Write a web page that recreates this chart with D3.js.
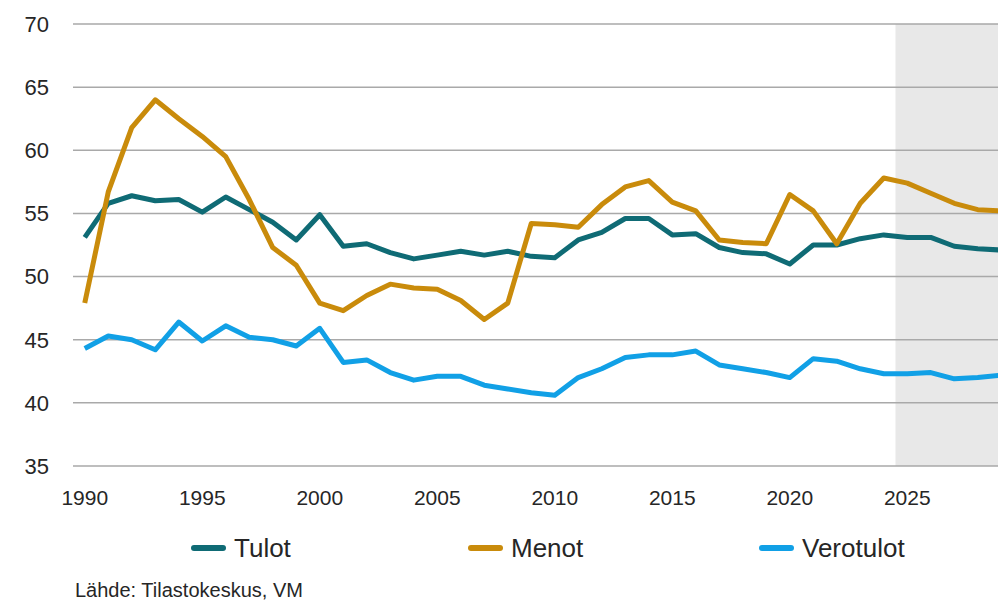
<!DOCTYPE html>
<meta charset="utf-8">
<head>
  <script src="https://d3js.org/d3.v7.min.js"></script>
  <style>
    body { margin: 0; background: #fff; }
    text { font-family: "Liberation Sans", Arial, sans-serif; fill: #262626; }
  </style>
</head>
<body>
<svg id="chart"></svg>
<script>
  // years 1990..2029 (last one partly outside the picture)
  var years = d3.range(1990, 2030);
  var tulot = [53.1, 55.8, 56.4, 56.0, 56.1, 55.1, 56.3, 55.3, 54.3, 52.9,
               54.9, 52.4, 52.6, 51.9, 51.4, 51.7, 52.0, 51.7, 52.0, 51.6,
               51.5, 52.9, 53.5, 54.6, 54.6, 53.3, 53.4, 52.3, 51.9, 51.8,
               51.0, 52.5, 52.5, 53.0, 53.3, 53.1, 53.1, 52.4, 52.2, 52.1];
  var menot = [47.9, 56.7, 61.8, 64.0, 62.5, 61.1, 59.5, 56.1, 52.3, 50.9,
               47.9, 47.3, 48.5, 49.4, 49.1, 49.0, 48.1, 46.6, 47.9, 54.2,
               54.1, 53.9, 55.7, 57.1, 57.6, 55.9, 55.2, 52.9, 52.7, 52.6,
               56.5, 55.2, 52.6, 55.8, 57.8, 57.4, 56.6, 55.8, 55.3, 55.2];
  var verotulot = [44.3, 45.3, 45.0, 44.2, 46.4, 44.9, 46.1, 45.2, 45.0, 44.5,
                   45.9, 43.2, 43.4, 42.4, 41.8, 42.1, 42.1, 41.4, 41.1, 40.8,
                   40.6, 42.0, 42.7, 43.6, 43.8, 43.8, 44.1, 43.0, 42.7, 42.4,
                   42.0, 43.5, 43.3, 42.7, 42.3, 42.3, 42.4, 41.9, 42.0, 42.2];
  var seriesNames = ["Tulot", "Menot", "Verotulot"];
  var seriesColors = ["#0f6b75", "#c98b0b", "#11a0e6"];
  var yTicks = [35, 40, 45, 50, 55, 60, 65, 70];
  var xTicks = [1990, 1995, 2000, 2005, 2010, 2015, 2020, 2025];
  var forecastFrom = 2025;
  var source = "Lähde: Tilastokeskus, VM";

  var W = 998, H = 601;
  var svg = d3.select("#chart").attr("width", W).attr("height", H);

  // category axis, points in the middle of each band
  var x = d3.scaleBand().domain(years).range([73, 73 + 23.5 * years.length]);
  var xc = function(yr) { return x(yr) + x.bandwidth() / 2; };
  var y = d3.scaleLinear().domain([35, 70]).range([466, 24]);

  // forecast shading
  svg.append("rect")
    .attr("x", x(forecastFrom)).attr("y", y(70))
    .attr("width", W - x(forecastFrom)).attr("height", y(35) - y(70))
    .attr("fill", "#e8e8e8");

  // gridlines
  svg.append("g").selectAll("line").data(yTicks).enter().append("line")
    .attr("x1", 73).attr("x2", W)
    .attr("y1", function(d) { return y(d); }).attr("y2", function(d) { return y(d); })
    .attr("stroke", "#a9a9a9").attr("stroke-width", 1.5);

  // y labels
  svg.append("g").selectAll("text").data(yTicks).enter().append("text")
    .attr("x", 49).attr("y", function(d) { return y(d); })
    .attr("dy", "0.36em").attr("text-anchor", "end")
    .attr("font-size", 22).text(function(d) { return d; });

  // x labels
  svg.append("g").selectAll("text").data(xTicks).enter().append("text")
    .attr("x", function(d) { return xc(d); }).attr("y", 497)
    .attr("dy", "0.36em").attr("text-anchor", "middle")
    .attr("font-size", 21).text(function(d) { return d; });

  // lines
  var data = [tulot, menot, verotulot];
  var line = d3.line()
    .x(function(d, i) { return xc(years[i]); })
    .y(function(d) { return y(d); });
  svg.append("g").selectAll("path").data(data).enter().append("path")
    .attr("d", line)
    .attr("fill", "none")
    .attr("stroke", function(d, i) { return seriesColors[i]; })
    .attr("stroke-width", 5)
    .attr("stroke-linejoin", "round");

  // legend
  var legX = [191, 468, 759];
  var leg = svg.append("g").selectAll("g").data(seriesNames).enter().append("g")
    .attr("transform", function(d, i) { return "translate(" + legX[i] + ",548)"; });
  leg.append("line")
    .attr("x1", 3).attr("x2", 32).attr("y1", 0).attr("y2", 0)
    .attr("stroke", function(d, i) { return seriesColors[i]; })
    .attr("stroke-width", 6).attr("stroke-linecap", "round");
  leg.append("text")
    .attr("x", 43).attr("dy", "0.36em")
    .attr("font-size", 26).text(function(d) { return d; });

  svg.append("text")
    .attr("x", 75).attr("y", 590).attr("dy", "0.36em")
    .attr("font-size", 20).text(source);
</script>
</body>
